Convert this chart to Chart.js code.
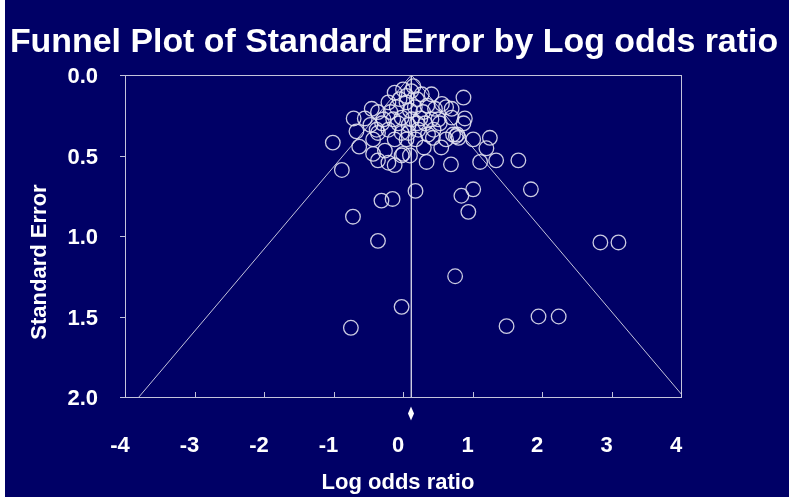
<!DOCTYPE html>
<html>
<head>
<meta charset="utf-8">
<script src="https://cdn.jsdelivr.net/npm/chart.js@4"></script>
<style>
  html, body { margin: 0; padding: 0; background: #000066; }
  canvas { display: block; }
</style>
</head>
<body>
<canvas id="funnel" width="789" height="497"></canvas>
<script>
// study effects (log odds ratio) and their standard errors
const logOdds = [
  -1.01, -0.88, -0.72, -0.75, -0.36, -0.31, -0.15, -0.02, 0.18, 0.84,
  1.01, 0.94, 0.75, 1.49, 1.95, 2.24, 2.84, 3.10, 1.84, 1.66,
  1.34, 1.11, 1.20, 1.25, 1.01, 0.69, 0.34, 0.87, 0.89, 0.70,
  0.62, 0.72, 0.76, 0.80, 0.78, 0.43, -0.36, -0.21, -0.12, -0.02,
  0.10, -0.71, -0.55, -0.45, -0.67, -0.63, -0.47, -0.43, -0.43, -0.38,
  -0.36, -0.21, -0.12, -0.02, 0.08, 0.22, 0.36, -0.26, 0.00, 0.44,
  0.53, 0.87, -0.12, 0.00, 0.15, 0.27, -0.21, -0.09, 0.05, 0.17,
  0.29, -0.28, -0.14, -0.02, 0.13, 0.32, -0.36, 0.41, 0.56, 0.46,
  0.70, 0.51, 0.41, 0.05, 0.20, -0.05, 0.10, 0.25, -0.18, 0.35,
  0.12, -0.30, 0.18, 0.05, 0.30, 0.62, 0.55, -0.07, 0.20, 0.08
];
const stdErr = [
  0.42, 0.59, 0.88, 1.57, 1.03, 0.78, 0.77, 1.44, 0.72, 0.75,
  0.71, 0.85, 1.25, 1.56, 1.50, 1.50, 1.04, 1.04, 0.71, 0.53,
  0.53, 0.54, 0.455, 0.39, 0.40, 0.555, 0.54, 0.14, 0.27, 0.21,
  0.20, 0.37, 0.38, 0.39, 0.37, 0.39, 0.53, 0.545, 0.56, 0.50,
  0.50, 0.27, 0.27, 0.21, 0.35, 0.445, 0.31, 0.40, 0.49, 0.34,
  0.36, 0.34, 0.40, 0.36, 0.31, 0.34, 0.37, 0.47, 0.49, 0.34,
  0.30, 0.30, 0.11, 0.09, 0.07, 0.12, 0.17, 0.20, 0.17, 0.20,
  0.23, 0.275, 0.275, 0.265, 0.275, 0.30, 0.23, 0.12, 0.18, 0.21,
  0.265, 0.275, 0.275, 0.13, 0.15, 0.15, 0.22, 0.27, 0.23, 0.19,
  0.10, 0.30, 0.40, 0.40, 0.45, 0.40, 0.45, 0.30, 0.30, 0.36
];

// pooled estimate and funnel limits (apex at SE 0, base at SE 2)
const pooled = 0.12;
const funnelSE = [0, 2];
const funnelLeft = [0.12, -3.80];
const funnelRight = [0.12, 4.04];
const diamondSE = 2.10;

const xTicks = [-4, -3, -2, -1, 0, 1, 2, 3, 4];
const yTicks = [0, 0.5, 1, 1.5, 2];

const NAVY = '#000066';
const LINE = 'rgba(205,205,225,0.95)';
const FONT = '"Liberation Sans", Arial, sans-serif';
const TITLE = 'Funnel Plot of Standard Error by Log odds ratio';

// tall narrow diamond for the combined effect
const diamond = document.createElement('canvas');
diamond.width = 8; diamond.height = 15;
(function () {
  const d = diamond.getContext('2d');
  d.fillStyle = '#ffffff';
  d.beginPath();
  d.moveTo(4, 0.5); d.lineTo(7, 7.5); d.lineTo(4, 14.5); d.lineTo(1, 7.5);
  d.closePath();
  d.fill();
})();

const frame = {
  id: 'frame',
  beforeDraw(chart) {
    const ctx = chart.ctx;
    ctx.save();
    ctx.fillStyle = NAVY;
    ctx.fillRect(0, 0, chart.width, chart.height);
    ctx.fillStyle = '#ffffff';
    ctx.fillRect(0, 0, 5, chart.height);
    ctx.restore();
  },
  afterDatasetsDraw(chart) {
    const ctx = chart.ctx;
    const a = chart.chartArea;
    const xs = chart.scales.x, ys = chart.scales.y;
    ctx.save();
    ctx.strokeStyle = LINE;
    ctx.lineWidth = 1;
    ctx.strokeRect(Math.round(a.left) + 0.5, Math.round(a.top) + 0.5,
      Math.round(a.right - a.left), Math.round(a.bottom - a.top));
    ctx.beginPath();
    xTicks.forEach(v => {
      const px = Math.round(xs.getPixelForValue(v)) + 0.5;
      ctx.moveTo(px, a.bottom);
      ctx.lineTo(px, a.bottom - 5);
    });
    yTicks.forEach(v => {
      const py = Math.round(ys.getPixelForValue(v)) + 0.5;
      ctx.moveTo(a.left, py);
      ctx.lineTo(a.left - 5, py);
    });
    ctx.stroke();

    // combined effect diamond sits below the axis, outside the plot area
    const dx = xs.getPixelForValue(pooled), dy = ys.getPixelForValue(diamondSE);
    ctx.drawImage(diamond, Math.round(dx - diamond.width / 2), Math.round(dy - diamond.height / 2));

    ctx.fillStyle = '#ffffff';
    ctx.textAlign = 'center';

    // main title, sized to span the slide width
    ctx.font = 'bold 34px ' + FONT;
    const w = ctx.measureText(TITLE).width;
    const size = Math.min(34, 34 * 768 / w);
    ctx.font = 'bold ' + size.toFixed(1) + 'px ' + FONT;
    ctx.textBaseline = 'alphabetic';
    ctx.fillText(TITLE, 394, 52);

    ctx.font = 'bold 22px ' + FONT;
    ctx.textBaseline = 'middle';
    ctx.fillText('Log odds ratio', 398, 483);
    ctx.translate(40, 262);
    ctx.rotate(-Math.PI / 2);
    ctx.fillText('Standard Error', 0, 0);
    ctx.restore();
  }
};

new Chart(document.getElementById('funnel'), {
  type: 'scatter',
  data: {
    datasets: [
      {
        label: 'Studies',
        data: logOdds.map((x, i) => ({ x: x, y: stdErr[i] })),
        pointStyle: 'circle',
        pointRadius: 7.3,
        pointBorderWidth: 1.3,
        borderColor: 'rgba(225,225,240,0.9)',
        backgroundColor: 'rgba(0,0,0,0)',
        order: 1
      },
      {
        label: 'Pooled',
        type: 'line',
        data: funnelSE.map(s => ({ x: pooled, y: s })),
        borderColor: LINE, borderWidth: 1, pointRadius: 0, order: 2
      },
      {
        label: 'Lower limit',
        type: 'line',
        data: funnelSE.map((s, i) => ({ x: funnelLeft[i], y: s })),
        borderColor: LINE, borderWidth: 1, pointRadius: 0, order: 2
      },
      {
        label: 'Upper limit',
        type: 'line',
        data: funnelSE.map((s, i) => ({ x: funnelRight[i], y: s })),
        borderColor: LINE, borderWidth: 1, pointRadius: 0, order: 2
      }
    ]
  },
  options: {
    responsive: false,
    animation: false,
    events: [],
    layout: { padding: { left: 0, right: 108, top: 75, bottom: 0 } },
    plugins: {
      legend: { display: false },
      tooltip: { enabled: false },
      title: { display: false }
    },
    scales: {
      x: {
        type: 'linear',
        min: -4, max: 4,
        afterBuildTicks: s => { s.ticks = xTicks.map(v => ({ value: v })); },
        afterFit: s => { s.height = 100; },
        grid: { display: false, drawTicks: false },
        border: { display: false },
        ticks: {
          color: '#ffffff',
          font: { family: FONT, size: 22, weight: 'bold' },
          padding: 36,
          labelOffset: -5,
          maxRotation: 0,
          callback: v => String(v)
        }
      },
      y: {
        type: 'linear',
        reverse: true,
        min: 0, max: 2,
        afterBuildTicks: s => { s.ticks = yTicks.map(v => ({ value: v })); },
        afterFit: s => { s.width = 125; },
        grid: { display: false, drawTicks: false },
        border: { display: false },
        ticks: {
          color: '#ffffff',
          font: { family: FONT, size: 22, weight: 'bold' },
          padding: 27,
          labelOffset: 2,
          callback: v => Number(v).toFixed(1)
        }
      }
    }
  },
  plugins: [frame]
});
</script>
</body>
</html>
